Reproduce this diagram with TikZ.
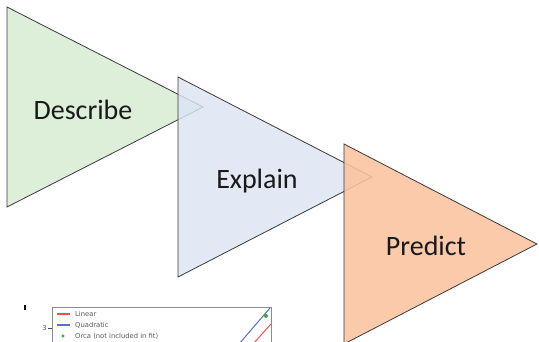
\documentclass[tikz,border=0pt]{standalone}
\usepackage{fontspec}
\setmainfont{Carlito}
\newfontfamily\plotfont{DejaVu Sans}
\definecolor{trigreen}{HTML}{DDEFD8}
\definecolor{triblue}{HTML}{DCE5F4}
\definecolor{triorange}{HTML}{FBC39F}
\definecolor{triedge}{HTML}{3A3A3A}
\definecolor{plotred}{HTML}{F05050}
\definecolor{plotblue}{HTML}{5A6FC8}
\definecolor{plotgreen}{HTML}{3AAA3A}
\begin{document}
\begin{tikzpicture}[x=1pt,y=-1pt,
  tri/.style={draw=triedge, line width=0.8pt, line join=miter},
  lbl/.style={font=\fontsize{28}{30}\selectfont, text=black!90, inner sep=0pt},
  leg/.style={font=\plotfont\fontsize{6.8}{8}\selectfont, text=black!65, anchor=west, inner sep=0pt}]
\useasboundingbox (0,0) rectangle (539,342);
\fill[white] (0,0) rectangle (539,342);
% triangles
\filldraw[tri, fill=trigreen] (7,7) -- (203,107) -- (7,207) -- cycle;
\filldraw[tri, fill=triblue, fill opacity=0.82] (178,77) -- (372,177) -- (178,277) -- cycle;
\filldraw[tri, fill=triorange, fill opacity=0.88] (344,144) -- (537,244) -- (344,344) -- cycle;
\node[lbl] (describe) at (83,110) {Describe};
\node[lbl] (explain) at (257,181) {Explain};
\node[lbl] (predict) at (426,246) {Predict};
% chart fragment
\begin{scope}
\clip (0,290) rectangle (539,342);
\draw[black!45, line width=0.7pt] (52,350) -- (52,307) -- (271,307) -- (271,350);
\draw[black!70, line width=0.5pt] (48,328) -- (52,328);
\node[leg, anchor=east] (tick3) at (47,328) {3};
\draw[black, line width=1.3pt] (25,305.5) -- (25,310);
\draw[plotred, line width=1pt] (253,344) -- (271,324);
\draw[plotblue, line width=1pt] (239,344) -- (270,308);
\fill[plotgreen] (266,316) circle (2);
\draw[plotred, line width=1.2pt] (57,314) -- (70,314);
\draw[plotblue, line width=1.2pt] (57,325) -- (70,325);
\fill[plotgreen] (63,336) circle (1.6);
\node[leg] (linear) at (75,314) {Linear};
\node[leg] (quad) at (75,325) {Quadratic};
\node[leg] (orca) at (75,336) {Orca (not included in fit)};
\end{scope}
\end{tikzpicture}
\end{document}
